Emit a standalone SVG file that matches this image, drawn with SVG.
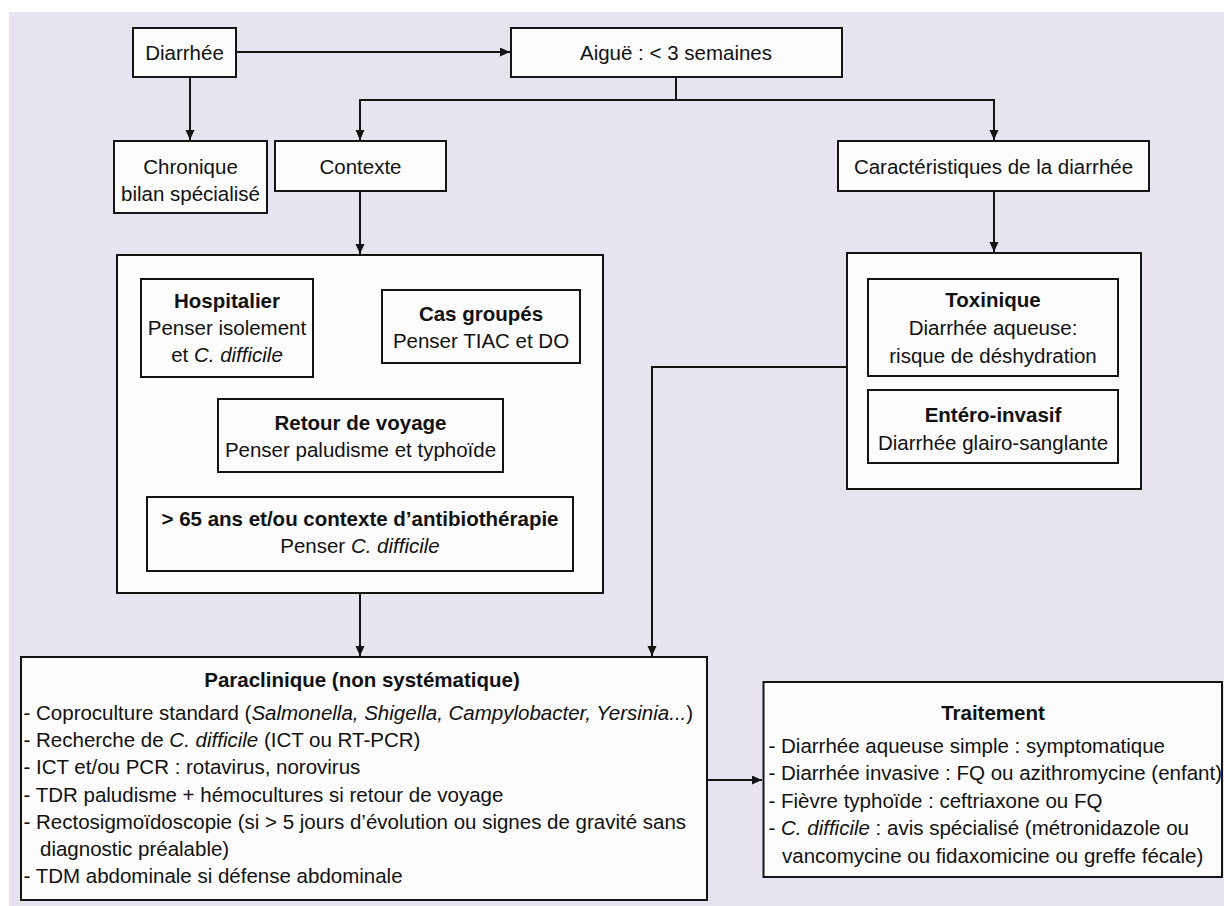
<svg xmlns="http://www.w3.org/2000/svg" width="1224" height="906" viewBox="0 0 1224 906">
<defs>
<style>
.box{fill:#fcfcfc;stroke:#141414;stroke-width:2}
.t{font-family:"Liberation Sans",Arial,sans-serif;font-size:20.5px;fill:#111}
.c{text-anchor:middle}
.b{font-weight:bold}
.i{font-style:italic}
.ln{fill:none;stroke:#141414;stroke-width:2}
</style>
<marker id="ah" markerUnits="userSpaceOnUse" markerWidth="11" markerHeight="10" refX="10" refY="4.5" orient="auto">
<path d="M0,0 L10,4.5 L0,9 z" fill="#141414"/>
</marker>
</defs>
<rect x="0" y="0" width="1224" height="906" fill="#ffffff"/>
<rect x="9" y="12" width="1215" height="894" fill="#e7e4f0"/>

<g id="connectors">
<path class="ln" d="M236,52 H510" marker-end="url(#ah)"/>
<path class="ln" d="M190,77 V140" marker-end="url(#ah)"/>
<path class="ln" d="M676,77 V100 H360 V140" marker-end="url(#ah)"/>
<path class="ln" d="M676,100 H994 V140" marker-end="url(#ah)"/>
<path class="ln" d="M360,191 V254" marker-end="url(#ah)"/>
<path class="ln" d="M994,191 V252" marker-end="url(#ah)"/>
<path class="ln" d="M360,593 V656" marker-end="url(#ah)"/>
<path class="ln" d="M847,367 H652 V656" marker-end="url(#ah)"/>
<path class="ln" d="M707,780 H762" marker-end="url(#ah)"/>
</g>

<g id="diarrhee">
<rect class="box" x="133" y="28" width="103" height="49"/>
<text class="t c" x="184.5" y="59.5">Diarrhée</text>
</g>
<g id="aigue">
<rect class="box" x="511" y="28" width="331" height="49"/>
<text class="t c" x="676" y="59.5">Aiguë : &lt; 3 semaines</text>
</g>
<g id="chronique">
<rect class="box" x="114" y="141" width="153" height="72"/>
<text class="t c" x="190.5" y="173.5">Chronique</text>
<text class="t c" x="190.5" y="200.5">bilan spécialisé</text>
</g>
<g id="contexte">
<rect class="box" x="275" y="141" width="171" height="50"/>
<text class="t c" x="360.5" y="173.5">Contexte</text>
</g>
<g id="caracteristiques">
<rect class="box" x="838" y="141" width="311" height="50"/>
<text class="t c" x="993.5" y="173.5">Caractéristiques de la diarrhée</text>
</g>

<g id="contexte-details">
<rect class="box" x="117" y="255" width="486" height="338"/>
</g>
<g id="hospitalier">
<rect class="box" x="141" y="279" width="172" height="98"/>
<text class="t c b" x="227" y="307.5">Hospitalier</text>
<text class="t c" x="227" y="334.5">Penser isolement</text>
<text class="t c" x="227" y="362">et <tspan class="i">C. difficile</tspan></text>
</g>
<g id="cas-groupes">
<rect class="box" x="382" y="290" width="198" height="73"/>
<text class="t c b" x="481" y="320.5">Cas groupés</text>
<text class="t c" x="481" y="347.5">Penser TIAC et DO</text>
</g>
<g id="retour-voyage">
<rect class="box" x="218" y="399" width="285" height="73"/>
<text class="t c b" x="360.5" y="429.5">Retour de voyage</text>
<text class="t c" x="360.5" y="456.5">Penser paludisme et typhoïde</text>
</g>
<g id="plus-65-ans">
<rect class="box" x="147" y="497" width="426" height="74"/>
<text class="t c b" x="360" y="525.5">&gt; 65 ans et/ou contexte d’antibiothérapie</text>
<text class="t c" x="360" y="553">Penser <tspan class="i">C. difficile</tspan></text>
</g>

<g id="caracteristiques-details">
<rect class="box" x="847" y="253" width="294" height="236"/>
</g>
<g id="toxinique">
<rect class="box" x="868" y="279" width="250" height="97"/>
<text class="t c b" x="993" y="306.5">Toxinique</text>
<text class="t c" x="993" y="334.5">Diarrhée aqueuse:</text>
<text class="t c" x="993" y="362.5">risque de déshydration</text>
</g>
<g id="entero-invasif">
<rect class="box" x="868" y="390" width="250" height="73"/>
<text class="t c b" x="993" y="421.5">Entéro-invasif</text>
<text class="t c" x="993" y="449.5">Diarrhée glairo-sanglante</text>
</g>

<g id="paraclinique">
<rect class="box" x="21" y="657" width="686" height="243"/>
<text class="t c b" x="362" y="687">Paraclinique (non systématique)</text>
<text class="t" x="23.5" y="720">- Coproculture standard (<tspan class="i">Salmonella, Shigella, Campylobacter, Yersinia...</tspan>)</text>
<text class="t" x="23.5" y="747.2">- Recherche de <tspan class="i">C. difficile</tspan> (ICT ou RT-PCR)</text>
<text class="t" x="23.5" y="774.4">- ICT et/ou PCR : rotavirus, norovirus</text>
<text class="t" x="23.5" y="801.6">- TDR paludisme + hémocultures si retour de voyage</text>
<text class="t" x="23.5" y="828.8">- Rectosigmoïdoscopie (si &gt; 5 jours d’évolution ou signes de gravité sans</text>
<text class="t" x="40" y="856">diagnostic préalable)</text>
<text class="t" x="23.5" y="883.2">- TDM abdominale si défense abdominale</text>
</g>

<g id="traitement">
<rect class="box" x="763.5" y="682" width="458.5" height="195"/>
<text class="t c b" x="993" y="719.5">Traitement</text>
<text class="t" x="768.5" y="752.5">- Diarrhée aqueuse simple : symptomatique</text>
<text class="t" x="768.5" y="780">- Diarrhée invasive : FQ ou azithromycine (enfant)</text>
<text class="t" x="768.5" y="807.5">- Fièvre typhoïde : ceftriaxone ou FQ</text>
<text class="t" x="768.5" y="835">- <tspan class="i">C. difficile</tspan> : avis spécialisé (métronidazole ou</text>
<text class="t" x="782" y="862.5">vancomycine ou fidaxomicine ou greffe fécale)</text>
</g>
</svg>
